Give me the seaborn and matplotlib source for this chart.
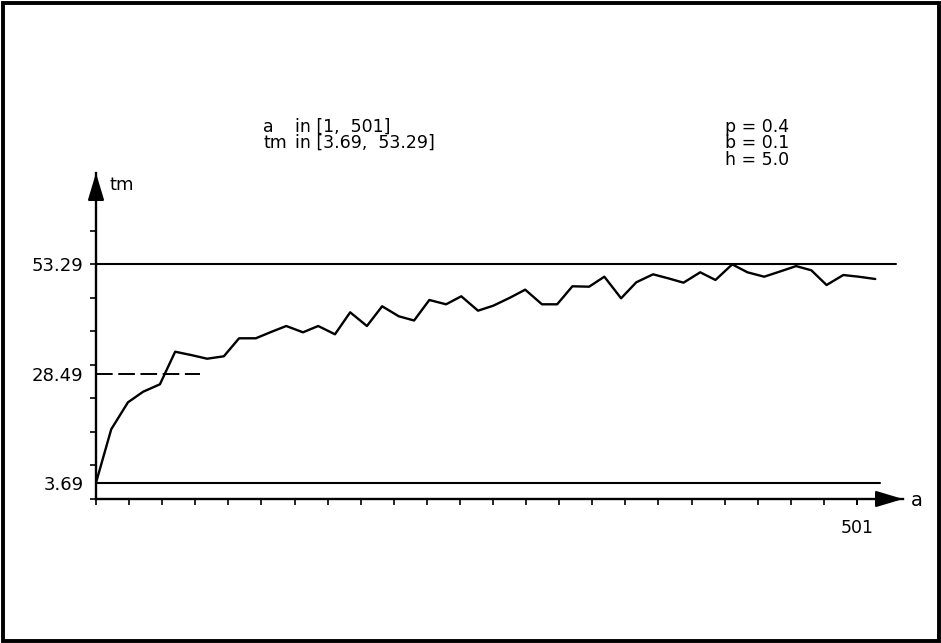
import matplotlib
matplotlib.use("Agg")
import matplotlib.pyplot as plt
from matplotlib.patches import Rectangle
import seaborn as sns

# data
a_vals = [1, 11, 22, 32, 43, 53, 64, 74, 85, 95,
          106, 116, 126, 137, 147, 158, 168, 179, 189, 200,
          210, 220, 231, 241, 252, 262, 273, 283, 294, 304,
          314, 325, 335, 346, 356, 367, 377, 387, 398, 408,
          419, 429, 440, 450, 461, 471, 481, 492, 502, 513]
tm_vals = [3.69, 15.83, 21.96, 24.37, 26.05, 33.45, 32.66, 31.86, 32.41, 36.50,
           36.50, 37.93, 39.29, 37.86, 39.29, 37.41, 42.40, 39.29, 43.77, 41.49,
           40.54, 45.20, 44.22, 46.04, 42.77, 43.90, 45.72, 47.54, 44.22, 44.22,
           48.31, 48.22, 50.49, 45.58, 49.22, 51.03, 50.12, 49.13, 51.49, 49.74,
           53.29, 51.49, 50.49, 51.62, 52.90, 51.94, 48.60, 50.87, 50.49, 49.97]

tm_min, tm_max, tm_ref = 3.69, 53.29, 28.49
a_max = 501
ytick_labels = ["3.69", "28.49", "53.29"]
info_left = [("a", "in [1,  501]"), ("tm", "in [3.69,  53.29]")]
info_right = ["p = 0.4", "b = 0.1", "h = 5.0"]

sns.set_theme(style="white")
plt.rcParams["font.family"] = ["DejaVu Sans"]
plt.rcParams["text.color"] = "black"
plt.rcParams["lines.scale_dashes"] = False

W, H = 941, 643
fig = plt.figure(figsize=(W / 100, H / 100), dpi=100)

def fx(px):
    return px / W

def fy(py):
    return 1 - py / H

# axis area in pixels: origin (96, 499), arrow tips at x=903 and y=173
px_per_a = 761 / 500
px_per_tm = 4.403
ax = fig.add_axes([fx(96), fy(499), (903 - 96) / W, (499 - 173) / H])
ax.set_xlim(1, 1 + (903 - 96) / px_per_a)
ax.set_ylim(0, (499 - 173) / px_per_tm)
ax.patch.set_alpha(0)

sns.lineplot(x=a_vals, y=tm_vals, color="black", lw=1.7, ax=ax)

# bounds lines
ax.plot([1, 1 + 800 / px_per_a], [tm_max, tm_max], color="black", lw=1.5)
ax.plot([1, 1 + 784 / px_per_a], [tm_min, tm_min], color="black", lw=1.5)
ax.plot([1, 1 + 104 / px_per_a], [tm_ref, tm_ref], color="black", lw=1.4,
        linestyle=(0, (12, 4)))

for side in ["top", "right"]:
    ax.spines[side].set_visible(False)
for side in ["left", "bottom"]:
    ax.spines[side].set_color("black")
    ax.spines[side].set_linewidth(1.7)

# arrow heads
xr = ax.get_xlim()[1]
yt = ax.get_ylim()[1]
arrow = dict(arrowstyle="-|>,head_length=1.4,head_width=0.42", color="black",
             lw=1.5, shrinkA=0, shrinkB=0)
ax.annotate("", xy=(xr, 0), xytext=(xr - 10, 0), arrowprops=arrow, annotation_clip=False)
ax.annotate("", xy=(1, yt), xytext=(1, yt - 3), arrowprops=arrow, annotation_clip=False)

# ticks
step = tm_max / 7
ax.set_yticks([float(v) for v in ytick_labels])
ax.set_yticklabels(ytick_labels)
ax.set_yticks([k * step for k in range(10)], minor=True)
ax.set_xticks([a_max])
ax.set_xticklabels([str(a_max)])
ax.set_xticks([1 + k * (a_max - 1) / 23 for k in range(24)], minor=True)
ax.xaxis.remove_overlapping_locs = False
ax.yaxis.remove_overlapping_locs = False
ax.tick_params(axis="y", which="major", length=0, pad=9, labelsize=13, labelcolor="black")
ax.tick_params(axis="y", which="minor", left=True, length=4.5, width=1.2, color="black")
ax.tick_params(axis="x", which="major", bottom=True, length=4.5, width=1.2, pad=10,
               labelsize=12.5, color="black", labelcolor="black")
ax.tick_params(axis="x", which="minor", bottom=True, length=4.5, width=1.2, color="black")

# axis names
fig.text(fx(911), fy(500), "a", fontsize=14, va="center", ha="left")
fig.text(fx(110), fy(190), "tm", fontsize=13, va="baseline", ha="left")

# info text
for i, (name, rng) in enumerate(info_left):
    y = 131.7 + i * 16.5
    fig.text(fx(263), fy(y), name, fontsize=12.5, va="baseline")
    fig.text(fx(295), fy(y), rng, fontsize=12.5, va="baseline")
for i, s in enumerate(info_right):
    fig.text(fx(725), fy(131.7 + i * 16.5), s, fontsize=12.5, va="baseline")

# outer frame
fig.patches.append(Rectangle((fx(2.5), fy(640.5)), (W - 5) / W, (H - 5) / H,
                             transform=fig.transFigure, fill=False,
                             edgecolor="black", lw=2.8))

fig.savefig("out.png", dpi=100)
